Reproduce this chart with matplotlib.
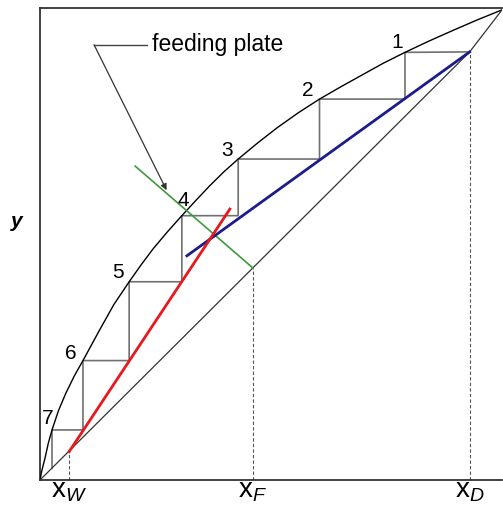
import matplotlib
matplotlib.use('Agg')
from matplotlib import pyplot as plt

plt.rcParams['font.family'] = ['Liberation Sans', 'DejaVu Sans']
plt.rcParams['mathtext.fontset'] = 'custom'
plt.rcParams['mathtext.rm'] = 'Liberation Sans'
plt.rcParams['mathtext.it'] = 'Liberation Sans:italic'

# equilibrium curve
eq_x = [0.0, 0.004, 0.011, 0.018, 0.026, 0.040, 0.056, 0.074, 0.093, 0.128,
        0.160, 0.193, 0.219, 0.245, 0.276, 0.307, 0.338, 0.368, 0.398, 0.429,
        0.471, 0.513, 0.559, 0.605, 0.651, 0.697, 0.743, 0.790, 0.842, 0.895,
        0.947, 1.0]
eq_y = [0.0, 0.020, 0.047, 0.078, 0.106, 0.147, 0.184, 0.220, 0.253, 0.316,
        0.372, 0.420, 0.456, 0.490, 0.526, 0.560, 0.593, 0.624, 0.653, 0.680,
        0.714, 0.746, 0.778, 0.807, 0.833, 0.858, 0.883, 0.906, 0.930, 0.953,
        0.975, 0.996]

# diagonal
diag_x = [0.0, 0.930, 1.0]
diag_y = [0.0, 0.907, 0.996]

# key compositions
x_w, y_w = 0.063, 0.060
x_f, y_f = 0.461, 0.449
x_d, y_d = 0.930, 0.907

# operating lines
strip_x = [x_w, 0.411]
strip_y = [y_w, 0.574]
rect_x = [x_d, 0.318]
rect_y = [y_d, 0.475]
q_x = [0.206, x_f]
q_y = [0.665, y_f]

# plates (corners on the equilibrium curve)
plate_x = [0.790, 0.605, 0.429, 0.307, 0.193, 0.093, 0.026]
plate_y = [0.906, 0.807, 0.680, 0.560, 0.420, 0.253, 0.106]
plate_labels = ['1', '2', '3', '4', '5', '6', '7']
label_pos = [(0.773, 0.926), (0.580, 0.826), (0.405, 0.699), (0.310, 0.593),
             (0.169, 0.439), (0.067, 0.267), (0.017, 0.131)]
last_drop = 0.025


def main():
    fig = plt.figure(figsize=(5.03, 5.07), dpi=100)
    ax = fig.add_axes([40 / 503, 27 / 507, 462 / 503, 472 / 507])
    ax.set_xlim(0, 1)
    ax.set_ylim(0, 1)
    ax.set_xticks([])
    ax.set_yticks([])
    ax.spines['right'].set_visible(False)
    for s in ['left', 'bottom', 'top']:
        ax.spines[s].set_linewidth(1.3)
        ax.spines[s].set_color('#333333')

    # stairs
    sx, sy = [x_d], [y_d]
    for i in range(len(plate_x)):
        sx.append(plate_x[i])
        sy.append(plate_y[i])
        nxt = plate_y[i + 1] if i + 1 < len(plate_y) else last_drop
        sx.append(plate_x[i])
        sy.append(nxt)
    ax.plot(sx, sy, color='#707070', lw=1.2, zorder=2)

    ax.plot(eq_x, eq_y, color='black', lw=1.0, zorder=3)
    ax.plot(diag_x, diag_y, color='#333333', lw=0.9, zorder=3)

    for xv, yv in [(x_w, y_w), (x_f, y_f), (x_d, y_d)]:
        ax.plot([xv, xv], [0, yv], color='#555555', lw=0.8, ls=(0, (3, 2)), zorder=2)

    ax.plot(q_x, q_y, color='#3c9a3c', lw=1.2, zorder=4)
    ax.plot(rect_x, rect_y, color='#1c1c8a', lw=2.0, zorder=5)
    ax.plot(strip_x, strip_y, color='#e8181c', lw=2.0, zorder=6)

    for lab, (px, py) in zip(plate_labels, label_pos):
        ax.text(px, py, lab, fontsize=15, ha='center', va='center', zorder=7)

    # feeding plate callout
    ax.plot([0.117, 0.231], [0.922, 0.922], color='#444444', lw=1.0, clip_on=False)
    ax.annotate('', xy=(0.274, 0.614), xytext=(0.117, 0.922),
                arrowprops=dict(arrowstyle='-|>', color='#333333', lw=0.9,
                                mutation_scale=9, shrinkA=0, shrinkB=0))
    ax.text(0.243, 0.922, 'feeding plate', fontsize=16.5, ha='left', va='center')

    for xv, sub in [(x_w, 'W'), (x_f, 'F'), (x_d, 'D')]:
        ax.text(xv, -0.038, 'x$_{%s}$' % sub, fontsize=20, ha='center',
                va='baseline', clip_on=False)

    ax.text(-0.05, 0.548, 'y', fontsize=15, fontweight='bold', fontstyle='italic',
            ha='center', va='center', clip_on=False)

    fig.savefig('out.png', dpi=100)


if __name__ == '__main__':
    main()
